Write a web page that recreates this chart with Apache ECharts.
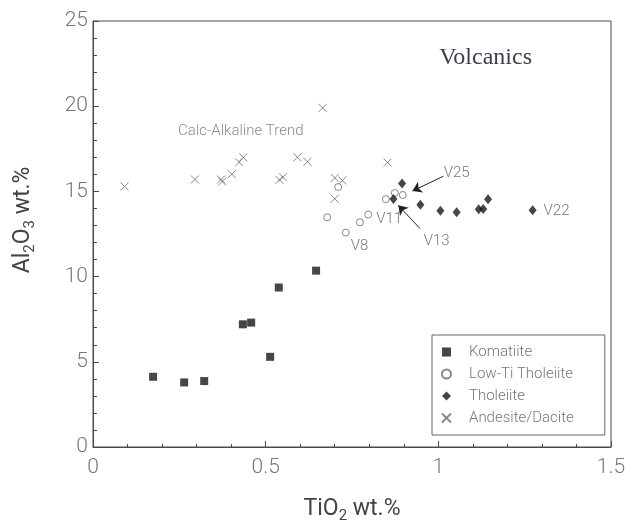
<!DOCTYPE html>
<html>
<head>
<meta charset="utf-8">
<script src="https://cdn.jsdelivr.net/npm/echarts@6/dist/echarts.min.js"></script>
<style>
  html, body { margin: 0; padding: 0; background: #fff; }
  #chart { width: 636px; height: 530px; }
</style>
</head>
<body>
<div id="chart"></div>
<script>
// TiO2 vs Al2O3 (wt.%) for the volcanic rock groups
const komatiiteTiO2  = [0.174, 0.264, 0.322, 0.434, 0.458, 0.513, 0.538, 0.646];
const komatiiteAl2O3 = [4.12, 3.79, 3.87, 7.20, 7.30, 5.29, 9.36, 10.35];

const lowTiTiO2  = [0.710, 0.678, 0.732, 0.773, 0.797, 0.848, 0.874, 0.897];
const lowTiAl2O3 = [15.26, 13.48, 12.58, 13.19, 13.64, 14.55, 14.91, 14.79];

const tholeiiteTiO2  = [0.895, 0.870, 0.948, 1.006, 1.053, 1.117, 1.130, 1.144, 1.273];
const tholeiiteAl2O3 = [15.46, 14.56, 14.22, 13.87, 13.77, 13.95, 13.97, 14.54, 13.89];

const andesiteTiO2  = [0.091, 0.295, 0.371, 0.374, 0.402, 0.423, 0.435, 0.540,
                       0.550, 0.592, 0.621, 0.665, 0.700, 0.722, 0.700, 0.853];
const andesiteAl2O3 = [15.29, 15.70, 15.70, 15.58, 16.01, 16.71, 17.00, 15.68,
                       15.83, 17.00, 16.74, 19.90, 15.79, 15.64, 14.57, 16.69];

const seriesNames = ['Komatiite', 'Low-Ti Tholeiite', 'Tholeiite', 'Andesite/Dacite'];

// axis ranges
const xRange = [0, 1.5, 0.5];
const yRange = [0, 25, 5];

// sample labels attached to individual points: [group, index, text]
const sampleLabels = [
  ['lowTi', 2, 'V8'],
  ['lowTi', 4, 'V11'],
  ['tholeiite', 8, 'V22']
];

// free-standing annotation texts (data coordinates)
const noteText = ['Calc-Alkaline Trend', 'V25', 'V13'];
const noteX    = [0.428, 1.053, 0.995];
const noteY    = [18.53, 16.04, 12.09];

// arrows from a label to its sample: [fromX, fromY, toX, toY]
const arrows = [
  [1.0145, 15.89, 0.925, 15.02],
  [0.947, 12.82, 0.884, 14.18]
];

const FONT = 'Roboto';
const labelStyles = {
  V8:  { position: 'right', distance: 1, offset: [0, 14] },
  V11: { position: 'right', distance: 4, offset: [0, 5] },
  V22: { position: 'right', distance: 7, offset: [0, 1] }
};

function pairs(xs, ys, group) {
  return xs.map((x, i) => {
    const item = { value: [x, ys[i]] };
    const lab = sampleLabels.find(l => l[0] === group && l[1] === i);
    if (lab) {
      item.label = Object.assign({
        show: true,
        formatter: lab[2],
        fontFamily: FONT,
        fontWeight: 300,
        fontSize: 15,
        color: '#555'
      }, labelStyles[lab[2]]);
    }
    return item;
  });
}

const chart = echarts.init(document.getElementById('chart'), null, { renderer: 'canvas' });

const axisColor = '#4a4a55';
const tickLabel = { fontFamily: FONT, fontWeight: 300, fontSize: 21, color: '#777' };

chart.setOption({
  animation: false,
  backgroundColor: '#fff',
  title: {
    text: 'Volcanics',
    right: 104,
    top: 46,
    padding: 0,
    textStyle: { fontFamily: 'Liberation Serif', fontSize: 24, fontWeight: 'normal', color: '#3e3e4c' }
  },
  grid: {
    left: 93, right: 25, top: 21, bottom: 83,
    show: true, borderColor: axisColor, borderWidth: 1, backgroundColor: 'transparent'
  },
  legend: {
    data: seriesNames,
    orient: 'vertical',
    left: 432,
    top: 335,
    padding: [9, 31, 9, 9],
    itemWidth: 9,
    itemHeight: 9,
    itemGap: 6,
    borderColor: '#666',
    borderWidth: 1,
    backgroundColor: '#fff',
    textStyle: { fontFamily: FONT, fontWeight: 300, fontSize: 15, color: '#777', lineHeight: 16, padding: [0, 0, 0, 13] }
  },
  xAxis: {
    type: 'value',
    min: xRange[0], max: xRange[1], interval: xRange[2],
    name: '{t|TiO}{s|2}{t| wt.%}',
    nameLocation: 'middle',
    nameGap: 47,
    nameTextStyle: {
      rich: {
        t: { fontFamily: FONT, fontSize: 23, color: '#444', lineHeight: 30 },
        s: { fontFamily: FONT, fontSize: 15, color: '#444', lineHeight: 16, verticalAlign: 'bottom' }
      }
    },
    axisLine: { show: true, onZero: false, lineStyle: { color: axisColor, width: 1 } },
    axisTick: { show: true, inside: true, length: 6, lineStyle: { color: axisColor } },
    minorTick: { show: true, splitNumber: 5, length: 3, lineStyle: { color: axisColor } },
    splitLine: { show: false },
    minorSplitLine: { show: false },
    axisLabel: Object.assign({ margin: 10, formatter: v => String(v) }, tickLabel)
  },
  yAxis: {
    type: 'value',
    min: yRange[0], max: yRange[1], interval: yRange[2],
    name: '{t|Al}{s|2}{t|O}{s|3}{t| wt.%}',
    nameLocation: 'middle',
    nameRotate: 90,
    nameGap: 55,
    nameTextStyle: {
      padding: [0, 0, 0, 28],
      rich: {
        t: { fontFamily: FONT, fontSize: 23, color: '#444', lineHeight: 30 },
        s: { fontFamily: FONT, fontSize: 15, color: '#444', lineHeight: 16, verticalAlign: 'bottom' }
      }
    },
    axisLine: { show: true, onZero: false, lineStyle: { color: axisColor, width: 1 } },
    axisTick: { show: true, inside: true, length: 6, lineStyle: { color: axisColor } },
    minorTick: { show: true, splitNumber: 5, length: 4, lineStyle: { color: axisColor } },
    splitLine: { show: false },
    minorSplitLine: { show: false },
    axisLabel: Object.assign({ margin: 5 }, tickLabel)
  },
  series: [
    {
      name: seriesNames[0],
      type: 'scatter',
      symbol: 'rect',
      symbolSize: 8,
      itemStyle: { color: '#181818' },
      data: pairs(komatiiteTiO2, komatiiteAl2O3, 'komatiite')
    },
    {
      name: seriesNames[1],
      type: 'scatter',
      symbol: 'circle',
      symbolSize: 7,
      itemStyle: { color: '#fff', borderColor: '#6a6a72', borderWidth: 1 },
      data: pairs(lowTiTiO2, lowTiAl2O3, 'lowTi')
    },
    {
      name: seriesNames[2],
      type: 'scatter',
      symbol: 'diamond',
      symbolSize: [8, 10],
      itemStyle: { color: '#181818' },
      data: pairs(tholeiiteTiO2, tholeiiteAl2O3, 'tholeiite')
    },
    {
      name: seriesNames[3],
      type: 'scatter',
      symbol: 'path://M0,0L10,10M10,0L0,10',
      symbolSize: 8,
      itemStyle: { color: 'transparent', borderColor: '#6a6a72', borderWidth: 1 },
      data: pairs(andesiteTiO2, andesiteAl2O3, 'andesite')
    },
    {
      name: 'notes',
      type: 'scatter',
      symbolSize: 0,
      silent: true,
      label: {
        show: true,
        position: 'inside',
        formatter: p => p.name,
        fontFamily: FONT,
        fontWeight: 300,
        fontSize: 15,
        color: '#555'
      },
      data: noteText.map((t, i) => ({
        name: t,
        value: [noteX[i], noteY[i]],
        label: i === 0 ? { color: '#6c6c80' } : {}
      })),
      markLine: {
        silent: true,
        symbol: ['none', 'arrow'],
        symbolSize: 9,
        label: { show: false },
        itemStyle: { color: '#222' },
        lineStyle: { color: '#222', width: 1, type: 'solid' },
        data: arrows.map(a => [{ coord: [a[0], a[1]] }, { coord: [a[2], a[3]] }])
      }
    }
  ]
});
</script>
</body>
</html>
